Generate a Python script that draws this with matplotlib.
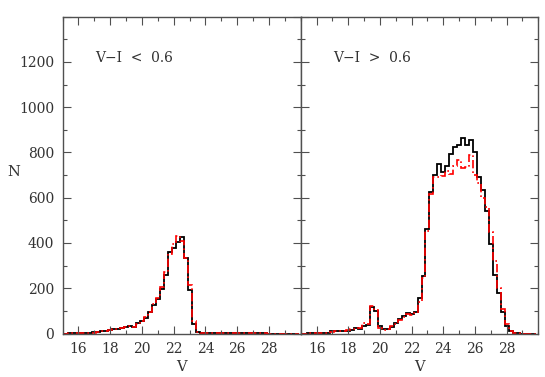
import numpy as np
import matplotlib
matplotlib.use("Agg")
import matplotlib.pyplot as plt
from matplotlib.ticker import MultipleLocator, FixedLocator

# ---- data: histogram counts per 0.25 mag bin, bin centres 15.00 ... 29.75 ----
bin_width = 0.25
bin_centres = np.arange(15.0, 30.0, bin_width)

# left panel: V-I < 0.6
blue_all = [0, 0, 1, 2, 4, 2, 1, 1,            # 15.00-16.75
            5, 8, 9, 13, 17, 20, 22, 26,       # 17.00-18.75
            30, 35, 28, 45, 55, 69, 94, 127,   # 19.00-20.75
            152, 198, 259, 359, 380, 406, 425, 333,  # 21.00-22.75
            193, 44, 7, 3, 2, 1, 1, 1,         # 23.00-24.75
            1, 1, 1, 1, 1, 1, 1, 1,            # 25.00-26.75
            1, 1, 1, 1, 0, 0, 0, 0,            # 27.00-28.75
            0, 0, 0, 0]                        # 29.00-29.75
blue_comp = [0, 0, 1, 2, 3, 2, 1, 1,
             4, 7, 9, 12, 16, 19, 21, 25,
             30, 33, 30, 44, 57, 72, 96, 130,
             155, 205, 270, 350, 395, 432, 410, 335,
             215, 55, 8, 3, 2, 1, 1, 1,
             1, 1, 1, 1, 1, 1, 1, 1,
             1, 1, 1, 1, 0, 0, 0, 0,
             0, 0, 0, 0]

# right panel: V-I > 0.6
red_all = [0, 0, 1, 1, 2, 2, 3, 4,
           12, 12, 11, 12, 13, 14, 25, 18,
           32, 36, 117, 100, 32, 20, 20, 30,
           46, 63, 78, 92, 86, 95, 157, 252,
           462, 626, 702, 750, 713, 742, 794, 823,
           831, 863, 831, 853, 801, 692, 633, 540,
           395, 259, 179, 94, 32, 10, 3, 1,
           0, 0, 0, 0]
red_comp = [0, 0, 1, 1, 2, 2, 3, 4,
            8, 10, 11, 12, 14, 18, 22, 25,
            48, 40, 122, 102, 26, 17, 22, 35,
            42, 58, 73, 86, 80, 90, 140, 245,
            455, 615, 690, 692, 695, 720, 705, 740,
            765, 730, 735, 790, 700, 665, 600, 560,
            450, 320, 200, 110, 40, 12, 4, 1,
            0, 0, 0, 0]

panel_titles = ["V\u2212I  <  0.6", "V\u2212I  >  0.6"]
x_ticks = [16, 18, 20, 22, 24, 26, 28]
y_ticks = [0, 200, 400, 600, 800, 1000, 1200]

edges = np.append(bin_centres - bin_width / 2, bin_centres[-1] + bin_width / 2)

plt.rcParams['font.family'] = ['DejaVu Serif']
W, H = 545, 377
fig = plt.figure(figsize=(W / 100, H / 100), dpi=100)

x0, xm, x1 = 62.5 / W, 300.8 / W, 538.3 / W
yb, yt = 1 - 333.5 / H, 1 - 16.7 / H
axL = fig.add_axes([x0, yb, xm - x0, yt - yb])
axR = fig.add_axes([xm, yb, x1 - xm, yt - yb])

frame_col = '#505050'
text_col = '#333333'
for ax, a, c, title in [(axL, blue_all, blue_comp, panel_titles[0]),
                        (axR, red_all, red_comp, panel_titles[1])]:
    ax.stairs(a, edges, color='black', lw=1.3, baseline=None)
    ax.stairs(c, edges, color='red', lw=1.2, baseline=None,
              linestyle=(0, (5, 1.8, 1, 1.8)))
    ax.set_xlim(15, 30)
    ax.set_ylim(0, 1400)
    ax.xaxis.set_major_locator(FixedLocator(x_ticks))
    ax.xaxis.set_minor_locator(MultipleLocator(1))
    ax.yaxis.set_major_locator(FixedLocator(y_ticks + [1400]))
    ax.yaxis.set_minor_locator(MultipleLocator(100))
    ax.tick_params(which='both', direction='in', top=True, right=True,
                   color=frame_col, labelsize=10, labelcolor=text_col)
    ax.tick_params(which='major', length=6, width=0.8, pad=6)
    ax.tick_params(which='minor', length=3.2, width=0.8)
    for s in ax.spines.values():
        s.set_color(frame_col)
        s.set_linewidth(1.0)
    ax.text(17.05, 1218, title, fontsize=10, color=text_col, va='center', ha='left')
    ax.set_xlabel('V', fontsize=10.5, color=text_col, labelpad=3)

axL.set_yticklabels([str(v) for v in y_ticks] + [''])
axR.set_yticklabels([])
fig.text(14 / W, 1 - 172 / H, 'N', fontsize=10.5, color=text_col, ha='center', va='center')

fig.savefig('out.png', dpi=100)
